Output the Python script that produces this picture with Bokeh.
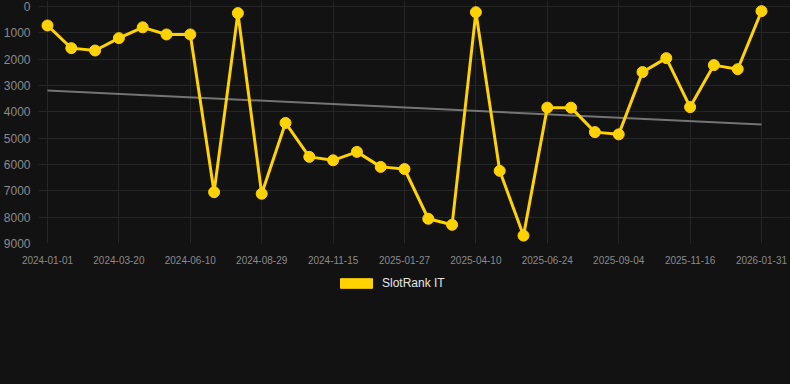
from bokeh.plotting import figure
from bokeh.layouts import column
from bokeh.models import Range1d, FixedTicker, Legend, LegendItem, ColumnDataSource
from bokeh.embed import file_html
from bokeh.resources import INLINE

# Rank values (lower = better), one per sampled date, equally spaced on the x axis
ranks = [720, 1580, 1670, 1200, 790, 1060, 1060, 7050, 250, 7110,
         4420, 5710, 5840, 5520, 6090, 6170, 8060, 8290, 215, 6240,
         8700, 3840, 3840, 4770, 4855, 2490, 1960, 3820, 2225, 2380, 175]
tick_labels = ["2024-01-01", "2024-03-20", "2024-06-10", "2024-08-29", "2024-11-15",
               "2025-01-27", "2025-04-10", "2025-06-24", "2025-09-04", "2025-11-16",
               "2026-01-31"]
tick_step = 3
trend_start = 3190
trend_end = 4480
y_ticks = [0, 1000, 2000, 3000, 4000, 5000, 6000, 7000, 8000, 9000]
series_name = "SlotRank IT"

BG = "#121212"
YELLOW = "#FFD200"
FONT = "Liberation Sans"

xs = list(range(len(ranks)))
src = ColumnDataSource(dict(x=xs, y=ranks))

PX_PER_STEP = 23.8
PX_PER_1000 = 26.33
x0 = -9 / PX_PER_STEP
y_top = 9000 - 243 / PX_PER_1000 * 1000

p = figure(width=790, height=270, output_backend="svg", toolbar_location=None,
           x_range=Range1d(x0, x0 + 752 / PX_PER_STEP),
           y_range=Range1d(9000, y_top),
           background_fill_color=BG, border_fill_color=None,
           min_border_left=38, min_border_right=0, min_border_top=0,
           min_border_bottom=27, outline_line_color=None)

# trend line
p.line([xs[0], xs[-1]], [trend_start, trend_end], line_color="#808080",
       line_width=2, line_alpha=0.9)

p.line("x", "y", source=src, line_color=YELLOW, line_width=3)
p.scatter("x", "y", source=src, size=11, fill_color=YELLOW, line_color=YELLOW)

# axes
p.xaxis.ticker = FixedTicker(ticks=xs[::tick_step])
p.xaxis.major_label_overrides = {xs[i * tick_step]: lab for i, lab in enumerate(tick_labels)}
p.yaxis.ticker = FixedTicker(ticks=y_ticks)
for ax in (p.xaxis[0], p.yaxis[0]):
    ax.axis_line_color = None
    ax.major_tick_line_color = None
    ax.minor_tick_line_color = None
    ax.major_label_text_color = "#8a8a8a"
    ax.major_label_text_font = FONT
p.xaxis.major_label_text_font_size = "10px"
p.yaxis.major_label_text_font_size = "12px"
p.xaxis.major_label_standoff = 6
p.yaxis.major_label_standoff = 2

p.xgrid.grid_line_color = "#262626"
p.ygrid.grid_line_color = "#262626"
p.xgrid.ticker = p.xaxis.ticker
p.ygrid.ticker = p.yaxis.ticker

# legend panel below the chart
lg = figure(width=790, height=114, output_backend="svg", toolbar_location=None,
            x_range=Range1d(0, 790), y_range=Range1d(0, 114),
            background_fill_color=BG, border_fill_color=None,
            min_border=0, outline_line_color=None)
lg.axis.visible = False
lg.grid.visible = False
swatch = lg.quad(left=[-20], right=[-10], top=[-20], bottom=[-10],
                 fill_color=YELLOW, line_color=YELLOW)
legend = Legend(items=[LegendItem(label=series_name, renderers=[swatch])],
                orientation="horizontal", location=(298, 94),
                background_fill_alpha=0,
                border_line_color=None, label_text_color="#e6e6e6",
                label_text_font=FONT, label_text_font_size="12px",
                glyph_width=40, glyph_height=12, padding=0, margin=0,
                label_standoff=6, label_height=12)
lg.add_layout(legend, "center")

layout = column(p, lg, spacing=0)
html = file_html(layout, INLINE)
html = html.replace("</head>",
                    "<style>html,body{margin:0;padding:0;background:#121212;}</style></head>", 1)
open("out.html", "w").write(html)
